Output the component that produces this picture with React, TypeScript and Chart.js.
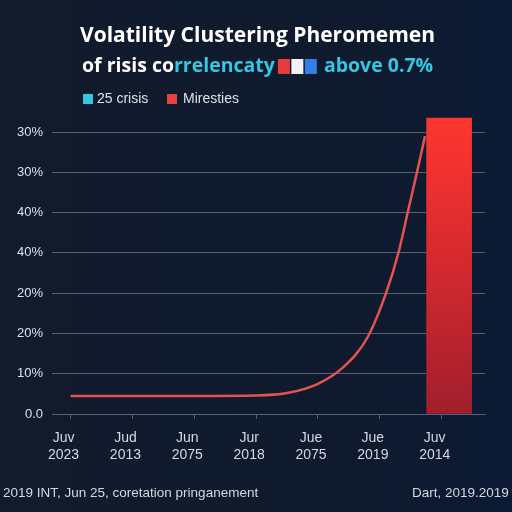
import React, { useEffect, useRef } from "react";
import { Chart, registerables } from "chart.js";

Chart.register(...registerables);

// Category labels along the time axis (two lines each)
const categories: string[][] = [
  ["Juv", "2023"],
  ["Jud", "2013"],
  ["Jun", "2075"],
  ["Jur", "2018"],
  ["Jue", "2075"],
  ["Jue", "2019"],
  ["Juv", "2014"],
];

// Y tick labels, indexed by tick value 0..7
const yTickLabels = ["0.0", "10%", "20%", "20%", "40%", "40%", "30%", "30%"];

// Correlation curve (x in category units, y in tick units)
const curveX = [0, 1, 2, 3, 3.5, 4, 4.4, 4.8, 5.1, 5.3, 5.45, 5.6, 5.73];
const curveY = [0.45, 0.45, 0.45, 0.46, 0.52, 0.75, 1.15, 1.9, 3.0, 4.0, 5.0, 6.0, 6.9];

// Crisis bar
const barX = 6.12;
const barValue = 7.35;

const legendLabels = ["25 crisis", "Miresties"];
const titleLine1 = "Volatility Clustering Pheromemen";
const titleLine2a = "of risis co";
const titleLine2b = "rrelencaty";
const titleLine2c = "above 0.7%";
const footerLeft = "2019 INT, Jun 25, coretation pringanement";
const footerRight = "Dart, 2019.2019";

const BG = "#0f1a2d";
const CYAN = "#35c6e0";
const RED = "#e8403c";
const TEXT = "#dde1e8";
const GRID = "#566074";
const SANS = "'Liberation Sans', Arial, sans-serif";
const TITLE_FONT = "'Open Sans', 'Noto Sans', sans-serif";

const decorations = {
  id: "decorations",
  beforeDraw(chart: Chart) {
    const { ctx, width, height } = chart;
    ctx.save();
    const g = ctx.createLinearGradient(0, 0, width, 0);
    g.addColorStop(0, "#111b2c");
    g.addColorStop(0.7, "#0f1a2e");
    g.addColorStop(1, "#0b1a34");
    ctx.fillStyle = g;
    ctx.fillRect(0, 0, width, height);
    ctx.restore();
  },
  afterDraw(chart: Chart) {
    const { ctx } = chart;
    ctx.save();
    ctx.textBaseline = "middle";
    ctx.textAlign = "left";

    // Title
    ctx.font = `bold 21px ${TITLE_FONT}`;
    ctx.fillStyle = "#ffffff";
    ctx.fillText(titleLine1, 80, 36);

    let x = 82;
    const y2 = 66;
    ctx.font = `bold 19.5px ${TITLE_FONT}`;
    ctx.fillStyle = "#ffffff";
    ctx.fillText(titleLine2a, x, y2);
    x += ctx.measureText(titleLine2a).width;
    ctx.fillStyle = CYAN;
    ctx.fillText(titleLine2b, x, y2);
    x += ctx.measureText(titleLine2b).width + 3;
    // tricolour flag
    const fw = 12, fh = 15, fy = y2 - 7;
    ctx.fillStyle = "#e83b3b";
    ctx.fillRect(x, fy, fw, fh);
    ctx.fillStyle = "#f2f2f4";
    ctx.fillRect(x + fw + 1.5, fy, fw, fh);
    ctx.fillStyle = "#2f80e4";
    ctx.fillRect(x + 2 * (fw + 1.5), fy, fw, fh);
    x += 3 * fw + 3 + 7;
    ctx.fillStyle = CYAN;
    ctx.fillText(titleLine2c, x, y2);

    // Legend
    ctx.font = `14px ${SANS}`;
    ctx.fillStyle = CYAN;
    ctx.fillRect(83, 94, 10, 10);
    ctx.fillStyle = TEXT;
    ctx.fillText(legendLabels[0], 97, 99.5);
    ctx.fillStyle = RED;
    ctx.fillRect(167, 94, 10, 10);
    ctx.fillStyle = TEXT;
    ctx.fillText(legendLabels[1], 183, 99.5);

    // Footer
    ctx.font = `13.5px ${SANS}`;
    ctx.fillStyle = "#d4d8e0";
    ctx.fillText(footerLeft, 3, 493);
    ctx.fillText(footerRight, 412, 493);
    ctx.restore();
  },
};

export default function App() {
  const ref = useRef<HTMLCanvasElement | null>(null);

  useEffect(() => {
    if (!ref.current) return;
    Chart.defaults.font.family = SANS;
    const chart = new Chart(ref.current, {
      type: "bar",
      data: {
        datasets: [
          {
            type: "line",
            label: legendLabels[0],
            data: curveX.map((v, i) => ({ x: v, y: curveY[i] })),
            borderColor: "#e4534f",
            borderWidth: 2.5,
            pointRadius: 0,
            cubicInterpolationMode: "monotone",
            fill: false,
            order: 2,
          } as any,
          {
            type: "bar",
            label: legendLabels[1],
            data: [{ x: barX, y: barValue }],
            barThickness: 45,
            borderWidth: 0,
            order: 1,
            backgroundColor: (c: any) => {
              const { chart: ch } = c;
              const area = ch.chartArea;
              if (!area) return RED;
              const top = ch.scales.y.getPixelForValue(barValue);
              const grad = ch.ctx.createLinearGradient(0, top, 0, area.bottom);
              grad.addColorStop(0, "#ff3630");
              grad.addColorStop(0.5, "#d4292f");
              grad.addColorStop(1, "#a01f2c");
              return grad;
            },
          } as any,
        ],
      },
      options: {
        responsive: false,
        animation: false,
        layout: { padding: { top: 116, right: 27, left: 0, bottom: 0 } },
        plugins: {
          legend: { display: false },
          title: { display: false },
          tooltip: { enabled: false },
        },
        scales: {
          x: {
            type: "linear",
            offset: false,
            min: -0.3,
            max: 6.7,
            afterBuildTicks: (scale: any) => {
              scale.ticks = categories.map((_, i) => ({ value: i }));
            },
            afterFit: (scale: any) => {
              scale.height = 98;
            },
            ticks: {
              autoSkip: false,
              maxRotation: 0,
              color: "#d4d8e0",
              font: { size: 14 },
              padding: 11,
              labelOffset: -7,
              callback: (v: any) => categories[Math.round(Number(v))] ?? "",
            },
            grid: {
              offset: false,
              drawOnChartArea: false,
              drawTicks: true,
              tickLength: 5,
              color: GRID,
            },
            border: { display: true, color: GRID },
          },
          y: {
            type: "linear",
            min: 0,
            max: 7.4,
            afterBuildTicks: (scale: any) => {
              scale.ticks = yTickLabels.map((_, i) => ({ value: i }));
            },
            afterFit: (scale: any) => {
              scale.width = 52;
            },
            ticks: {
              color: TEXT,
              font: { size: 13 },
              padding: 9,
              callback: (v: any) => yTickLabels[Math.round(Number(v))] ?? "",
            },
            grid: { color: GRID, drawTicks: false, lineWidth: 1 },
            border: { display: false },
          },
        },
      },
      plugins: [decorations],
    });
    return () => chart.destroy();
  }, []);

  return (
    <div style={{ position: "fixed", left: 0, top: 0, width: 512, height: 512, background: BG }}>
      <canvas ref={ref} width={512} height={512} style={{ display: "block" }} />
    </div>
  );
}
